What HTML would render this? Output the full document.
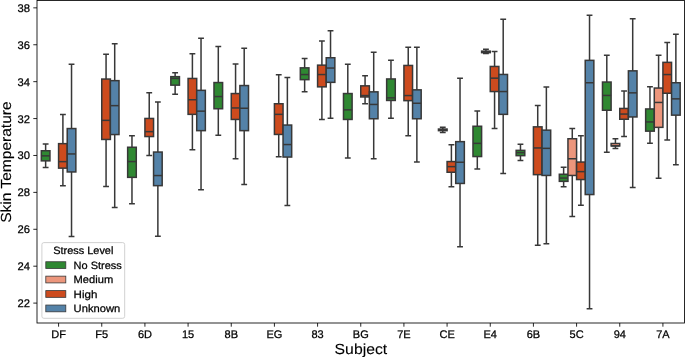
<!DOCTYPE html>
<html><head><meta charset="utf-8"><style>
html,body{margin:0;padding:0;background:#fff;}
svg{display:block;will-change:transform;}
text{font-family:"Liberation Sans",sans-serif;fill:#000;text-rendering:geometricPrecision;stroke:#000;stroke-width:0.25px;}
.tl{font-size:11px;}
.lg{font-size:10.6px;}
.w{stroke:#383838;stroke-width:1.5;fill:none;stroke-linecap:square;}
.md{stroke:#383838;stroke-width:1.5;fill:none;}
.bx{stroke:#383838;stroke-width:1.5;}
.tk{stroke:#000;stroke-width:0.85;fill:none;}
</style></head><body>
<svg width="685" height="357" viewBox="0 0 685 357">
<rect width="685" height="357" fill="#fff"/>
<path d="M45.63 150.75V143.95M43.47 143.95H47.79M45.63 160.85V167.55M43.47 167.55H47.79" class="w"/>
<rect x="41.32" y="150.75" width="8.63" height="10.1" fill="#2f8832" class="bx"/>
<path d="M41.32 155.85H49.95" class="md"/>
<path d="M62.9 143.65V114.55M60.74 114.55H65.06M62.9 168.15V185.65M60.74 185.65H65.06" class="w"/>
<rect x="58.58" y="143.65" width="8.63" height="24.5" fill="#cd4b1e" class="bx"/>
<path d="M58.58 161.65H67.22" class="md"/>
<path d="M71.53 128.55V64.15M69.38 64.15H73.69M71.53 171.95V236.55M69.38 236.55H73.69" class="w"/>
<rect x="67.22" y="128.55" width="8.63" height="43.4" fill="#5482a8" class="bx"/>
<path d="M67.22 153.95H75.85" class="md"/>
<path d="M106.07 79.05V54.35M103.91 54.35H108.22M106.07 139.45V186.55M103.91 186.55H108.22" class="w"/>
<rect x="101.75" y="79.05" width="8.63" height="60.4" fill="#cd4b1e" class="bx"/>
<path d="M101.75 120.35H110.38" class="md"/>
<path d="M114.7 80.65V43.75M112.54 43.75H116.86M114.7 134.55V207.55M112.54 207.55H116.86" class="w"/>
<rect x="110.38" y="80.65" width="8.63" height="53.9" fill="#5482a8" class="bx"/>
<path d="M110.38 105.65H119.02" class="md"/>
<path d="M131.97 147.25V135.65M129.81 135.65H134.12M131.97 177.35V203.85M129.81 203.85H134.12" class="w"/>
<rect x="127.65" y="147.25" width="8.63" height="30.1" fill="#2f8832" class="bx"/>
<path d="M127.65 161.55H136.28" class="md"/>
<path d="M149.23 118.45V92.85M147.07 92.85H151.39M149.23 136.55V155.55M147.07 155.55H151.39" class="w"/>
<rect x="144.92" y="118.45" width="8.63" height="18.1" fill="#cd4b1e" class="bx"/>
<path d="M144.92 131.65H153.55" class="md"/>
<path d="M157.87 152.05V102.05M155.71 102.05H160.02M157.87 185.65V236.15M155.71 236.15H160.02" class="w"/>
<rect x="153.55" y="152.05" width="8.63" height="33.6" fill="#5482a8" class="bx"/>
<path d="M153.55 175.55H162.18" class="md"/>
<path d="M175.13 76.65V72.85M172.97 72.85H177.29M175.13 85.15V94.35M172.97 94.35H177.29" class="w"/>
<rect x="170.82" y="76.65" width="8.63" height="8.5" fill="#2f8832" class="bx"/>
<path d="M170.82 78.45H179.45" class="md"/>
<path d="M192.4 78.45V53.85M190.24 53.85H194.56M192.4 114.35V149.65M190.24 149.65H194.56" class="w"/>
<rect x="188.08" y="78.45" width="8.63" height="35.9" fill="#cd4b1e" class="bx"/>
<path d="M188.08 99.75H196.72" class="md"/>
<path d="M201.03 90.35V38.15M198.87 38.15H203.19M201.03 130.65V189.65M198.87 189.65H203.19" class="w"/>
<rect x="196.72" y="90.35" width="8.63" height="40.3" fill="#5482a8" class="bx"/>
<path d="M196.72 111.15H205.35" class="md"/>
<path d="M218.3 82.55V46.45M216.14 46.45H220.46M218.3 108.75V135.15M216.14 135.15H220.46" class="w"/>
<rect x="213.98" y="82.55" width="8.63" height="26.2" fill="#2f8832" class="bx"/>
<path d="M213.98 96.55H222.62" class="md"/>
<path d="M235.57 93.55V63.95M233.41 63.95H237.72M235.57 119.45V158.65M233.41 158.65H237.72" class="w"/>
<rect x="231.25" y="93.55" width="8.63" height="25.9" fill="#cd4b1e" class="bx"/>
<path d="M231.25 107.95H239.88" class="md"/>
<path d="M244.2 85.55V48.25M242.04 48.25H246.36M244.2 130.65V184.55M242.04 184.55H246.36" class="w"/>
<rect x="239.88" y="85.55" width="8.63" height="45.1" fill="#5482a8" class="bx"/>
<path d="M239.88 108.25H248.52" class="md"/>
<path d="M278.73 103.75V74.75M276.57 74.75H280.89M278.73 134.45V156.65M276.57 156.65H280.89" class="w"/>
<rect x="274.42" y="103.75" width="8.63" height="30.7" fill="#cd4b1e" class="bx"/>
<path d="M274.42 114.35H283.05" class="md"/>
<path d="M287.37 125.05V77.45M285.21 77.45H289.52M287.37 157.05V205.55M285.21 205.55H289.52" class="w"/>
<rect x="283.05" y="125.05" width="8.63" height="32" fill="#5482a8" class="bx"/>
<path d="M283.05 144.55H291.68" class="md"/>
<path d="M304.63 67.85V58.45M302.47 58.45H306.79M304.63 79.65V91.65M302.47 91.65H306.79" class="w"/>
<rect x="300.32" y="67.85" width="8.63" height="11.8" fill="#2f8832" class="bx"/>
<path d="M300.32 74.55H308.95" class="md"/>
<path d="M321.9 65.15V40.95M319.74 40.95H324.06M321.9 86.85V119.45M319.74 119.45H324.06" class="w"/>
<rect x="317.58" y="65.15" width="8.63" height="21.7" fill="#cd4b1e" class="bx"/>
<path d="M317.58 74.55H326.22" class="md"/>
<path d="M330.53 57.75V30.85M328.37 30.85H332.69M330.53 82.35V118.35M328.37 118.35H332.69" class="w"/>
<rect x="326.22" y="57.75" width="8.63" height="24.6" fill="#5482a8" class="bx"/>
<path d="M326.22 68.05H334.85" class="md"/>
<path d="M347.8 93.55V64.35M345.64 64.35H349.96M347.8 119.45V157.95M345.64 157.95H349.96" class="w"/>
<rect x="343.48" y="93.55" width="8.63" height="25.9" fill="#2f8832" class="bx"/>
<path d="M343.48 109.85H352.12" class="md"/>
<path d="M365.07 85.85V75.75M362.91 75.75H367.23M365.07 96.95V103.65M362.91 103.65H367.23" class="w"/>
<rect x="360.75" y="85.85" width="8.63" height="11.1" fill="#cd4b1e" class="bx"/>
<path d="M360.75 95.55H369.38" class="md"/>
<path d="M373.7 91.85V52.25M371.54 52.25H375.86M373.7 118.75V158.65M371.54 158.65H375.86" class="w"/>
<rect x="369.38" y="91.85" width="8.63" height="26.9" fill="#5482a8" class="bx"/>
<path d="M369.38 104.45H378.02" class="md"/>
<path d="M390.97 78.95V60.15M388.81 60.15H393.12M390.97 100.45V118.35M388.81 118.35H393.12" class="w"/>
<rect x="386.65" y="78.95" width="8.63" height="21.5" fill="#2f8832" class="bx"/>
<path d="M386.65 97.85H395.28" class="md"/>
<path d="M408.23 65.45V47.15M406.07 47.15H410.39M408.23 100.65V135.75M406.07 135.75H410.39" class="w"/>
<rect x="403.92" y="65.45" width="8.63" height="35.2" fill="#cd4b1e" class="bx"/>
<path d="M403.92 95.55H412.55" class="md"/>
<path d="M416.87 89.85V47.15M414.71 47.15H419.02M416.87 118.75V161.95M414.71 161.95H419.02" class="w"/>
<rect x="412.55" y="89.85" width="8.63" height="28.9" fill="#5482a8" class="bx"/>
<path d="M412.55 103.25H421.18" class="md"/>
<path d="M442.77 129.05V127.25M440.61 127.25H444.93M442.77 130.65V132.45M440.61 132.45H444.93" class="w"/>
<rect x="438.45" y="129.05" width="8.63" height="1.6" fill="#ec967c" class="bx"/>
<path d="M438.45 129.85H447.08" class="md"/>
<path d="M451.4 161.55V144.85M449.24 144.85H453.56M451.4 172.25V186.85M449.24 186.85H453.56" class="w"/>
<rect x="447.08" y="161.55" width="8.63" height="10.7" fill="#cd4b1e" class="bx"/>
<path d="M447.08 166.65H455.72" class="md"/>
<path d="M460.03 141.65V78.15M457.87 78.15H462.19M460.03 183.45V246.65M457.87 246.65H462.19" class="w"/>
<rect x="455.72" y="141.65" width="8.63" height="41.8" fill="#5482a8" class="bx"/>
<path d="M455.72 162.25H464.35" class="md"/>
<path d="M477.3 126.25V111.05M475.14 111.05H479.46M477.3 156.55V168.95M475.14 168.95H479.46" class="w"/>
<rect x="472.98" y="126.25" width="8.63" height="30.3" fill="#2f8832" class="bx"/>
<path d="M472.98 143.35H481.62" class="md"/>
<path d="M485.93 51.15V49.25M483.77 49.25H488.09M485.93 52.65V53.55M483.77 53.55H488.09" class="w"/>
<rect x="481.62" y="51.15" width="8.63" height="1.5" fill="#ec967c" class="bx"/>
<path d="M481.62 51.85H490.25" class="md"/>
<path d="M494.57 66.45V51.55M492.41 51.55H496.73M494.57 91.55V128.45M492.41 128.45H496.73" class="w"/>
<rect x="490.25" y="66.45" width="8.63" height="25.1" fill="#cd4b1e" class="bx"/>
<path d="M490.25 78.15H498.88" class="md"/>
<path d="M503.2 74.45V19.25M501.04 19.25H505.36M503.2 114.35V173.45M501.04 173.45H505.36" class="w"/>
<rect x="498.88" y="74.45" width="8.63" height="39.9" fill="#5482a8" class="bx"/>
<path d="M498.88 91.55H507.52" class="md"/>
<path d="M520.47 150.35V144.15M518.31 144.15H522.62M520.47 155.65V160.45M518.31 160.45H522.62" class="w"/>
<rect x="516.15" y="150.35" width="8.63" height="5.3" fill="#2f8832" class="bx"/>
<path d="M516.15 152.65H524.78" class="md"/>
<path d="M537.73 126.85V105.55M535.58 105.55H539.89M537.73 174.65V245.15M535.58 245.15H539.89" class="w"/>
<rect x="533.42" y="126.85" width="8.63" height="47.8" fill="#cd4b1e" class="bx"/>
<path d="M533.42 147.95H542.05" class="md"/>
<path d="M546.37 130.15V86.95M544.21 86.95H548.52M546.37 175.45V243.75M544.21 243.75H548.52" class="w"/>
<rect x="542.05" y="130.15" width="8.63" height="45.3" fill="#5482a8" class="bx"/>
<path d="M542.05 148.35H550.68" class="md"/>
<path d="M563.63 174.25V167.25M561.47 167.25H565.79M563.63 181.35V186.65M561.47 186.65H565.79" class="w"/>
<rect x="559.32" y="174.25" width="8.63" height="7.1" fill="#2f8832" class="bx"/>
<path d="M559.32 178.05H567.95" class="md"/>
<path d="M572.27 138.75V128.45M570.11 128.45H574.42M572.27 175.45V216.45M570.11 216.45H574.42" class="w"/>
<rect x="567.95" y="138.75" width="8.63" height="36.7" fill="#ec967c" class="bx"/>
<path d="M567.95 158.75H576.58" class="md"/>
<path d="M580.9 162.05V135.75M578.74 135.75H583.06M580.9 179.55V205.25M578.74 205.25H583.06" class="w"/>
<rect x="576.58" y="162.05" width="8.63" height="17.5" fill="#cd4b1e" class="bx"/>
<path d="M576.58 171.65H585.22" class="md"/>
<path d="M589.53 60.35V15.35M587.38 15.35H591.69M589.53 194.55V308.65M587.38 308.65H591.69" class="w"/>
<rect x="585.22" y="60.35" width="8.63" height="134.2" fill="#5482a8" class="bx"/>
<path d="M585.22 82.75H593.85" class="md"/>
<path d="M606.8 82.05V55.15M604.64 55.15H608.96M606.8 110.25V152.35M604.64 152.35H608.96" class="w"/>
<rect x="602.48" y="82.05" width="8.63" height="28.2" fill="#2f8832" class="bx"/>
<path d="M602.48 95.45H611.12" class="md"/>
<path d="M615.43 143.5V138.65M613.27 138.65H617.59M615.43 145.9V148.55M613.27 148.55H617.59" class="w"/>
<rect x="611.12" y="143.5" width="8.63" height="2.4" fill="#ec967c" class="bx"/>
<path d="M611.12 145.9H619.75" class="md"/>
<path d="M624.07 108.45V91.05M621.91 91.05H626.23M624.07 119.25V136.55M621.91 136.55H626.23" class="w"/>
<rect x="619.75" y="108.45" width="8.63" height="10.8" fill="#cd4b1e" class="bx"/>
<path d="M619.75 114.05H628.38" class="md"/>
<path d="M632.7 70.85V18.75M630.54 18.75H634.86M632.7 116.95V187.55M630.54 187.55H634.86" class="w"/>
<rect x="628.38" y="70.85" width="8.63" height="46.1" fill="#5482a8" class="bx"/>
<path d="M628.38 92.85H637.02" class="md"/>
<path d="M649.97 108.95V86.75M647.81 86.75H652.12M649.97 131.15V143.15M647.81 143.15H652.12" class="w"/>
<rect x="645.65" y="108.95" width="8.63" height="22.2" fill="#2f8832" class="bx"/>
<path d="M645.65 121.95H654.28" class="md"/>
<path d="M658.6 88.05V55.15M656.44 55.15H660.76M658.6 127.35V178.15M656.44 178.15H660.76" class="w"/>
<rect x="654.28" y="88.05" width="8.63" height="39.3" fill="#ec967c" class="bx"/>
<path d="M654.28 102.45H662.92" class="md"/>
<path d="M667.23 62.35V42.45M665.08 42.45H669.39M667.23 93.25V139.95M665.08 139.95H669.39" class="w"/>
<rect x="662.92" y="62.35" width="8.63" height="30.9" fill="#cd4b1e" class="bx"/>
<path d="M662.92 74.55H671.55" class="md"/>
<path d="M675.87 82.75V34.35M673.71 34.35H678.02M675.87 115.15V164.65M673.71 164.65H678.02" class="w"/>
<rect x="671.55" y="82.75" width="8.63" height="32.4" fill="#5482a8" class="bx"/>
<path d="M671.55 98.85H680.18" class="md"/>
<rect x="37" y="0.5" width="647.5" height="322.5" fill="none" stroke="#000" stroke-width="0.85"/>
<path d="M33.3 303.1H37" class="tk"/><text x="30" y="307.1" class="tl" text-anchor="end" textLength="12.5" lengthAdjust="spacingAndGlyphs">22</text>
<path d="M33.3 266.19H37" class="tk"/><text x="30" y="270.19" class="tl" text-anchor="end" textLength="12.5" lengthAdjust="spacingAndGlyphs">24</text>
<path d="M33.3 229.29H37" class="tk"/><text x="30" y="233.29" class="tl" text-anchor="end" textLength="12.5" lengthAdjust="spacingAndGlyphs">26</text>
<path d="M33.3 192.38H37" class="tk"/><text x="30" y="196.38" class="tl" text-anchor="end" textLength="12.5" lengthAdjust="spacingAndGlyphs">28</text>
<path d="M33.3 155.47H37" class="tk"/><text x="30" y="159.47" class="tl" text-anchor="end" textLength="12.5" lengthAdjust="spacingAndGlyphs">30</text>
<path d="M33.3 118.57H37" class="tk"/><text x="30" y="122.57" class="tl" text-anchor="end" textLength="12.5" lengthAdjust="spacingAndGlyphs">32</text>
<path d="M33.3 81.66H37" class="tk"/><text x="30" y="85.66" class="tl" text-anchor="end" textLength="12.5" lengthAdjust="spacingAndGlyphs">34</text>
<path d="M33.3 44.76H37" class="tk"/><text x="30" y="48.76" class="tl" text-anchor="end" textLength="12.5" lengthAdjust="spacingAndGlyphs">36</text>
<path d="M33.3 7.85H37" class="tk"/><text x="30" y="11.85" class="tl" text-anchor="end" textLength="12.5" lengthAdjust="spacingAndGlyphs">38</text>
<path d="M58.58 323V326.7" class="tk"/><text x="58.58" y="337.9" class="tl" text-anchor="middle">DF</text>
<path d="M101.75 323V326.7" class="tk"/><text x="101.75" y="337.9" class="tl" text-anchor="middle">F5</text>
<path d="M144.92 323V326.7" class="tk"/><text x="144.92" y="337.9" class="tl" text-anchor="middle">6D</text>
<path d="M188.08 323V326.7" class="tk"/><text x="188.08" y="337.9" class="tl" text-anchor="middle">15</text>
<path d="M231.25 323V326.7" class="tk"/><text x="231.25" y="337.9" class="tl" text-anchor="middle">8B</text>
<path d="M274.42 323V326.7" class="tk"/><text x="274.42" y="337.9" class="tl" text-anchor="middle">EG</text>
<path d="M317.58 323V326.7" class="tk"/><text x="317.58" y="337.9" class="tl" text-anchor="middle">83</text>
<path d="M360.75 323V326.7" class="tk"/><text x="360.75" y="337.9" class="tl" text-anchor="middle">BG</text>
<path d="M403.92 323V326.7" class="tk"/><text x="403.92" y="337.9" class="tl" text-anchor="middle">7E</text>
<path d="M447.08 323V326.7" class="tk"/><text x="447.08" y="337.9" class="tl" text-anchor="middle">CE</text>
<path d="M490.25 323V326.7" class="tk"/><text x="490.25" y="337.9" class="tl" text-anchor="middle">E4</text>
<path d="M533.42 323V326.7" class="tk"/><text x="533.42" y="337.9" class="tl" text-anchor="middle">6B</text>
<path d="M576.58 323V326.7" class="tk"/><text x="576.58" y="337.9" class="tl" text-anchor="middle">5C</text>
<path d="M619.75 323V326.7" class="tk"/><text x="619.75" y="337.9" class="tl" text-anchor="middle">94</text>
<path d="M662.92 323V326.7" class="tk"/><text x="662.92" y="337.9" class="tl" text-anchor="middle">7A</text>
<rect x="41.9" y="242.6" width="82.8" height="75.7" rx="2" ry="2" fill="#fff" fill-opacity="0.8" stroke="#cccccc" stroke-width="0.9"/>
<text x="53.2" y="254.1" class="lg" textLength="60.2" lengthAdjust="spacingAndGlyphs">Stress Level</text>
<rect x="45.8" y="261.75" width="20.0" height="6.75" fill="#2f8832" stroke="#383838" stroke-width="0.8"/>
<text x="73.6" y="268.7" class="lg" textLength="48.2" lengthAdjust="spacingAndGlyphs">No Stress</text>
<rect x="45.8" y="276.15" width="20.0" height="6.75" fill="#ec967c" stroke="#383838" stroke-width="0.8"/>
<text x="73.6" y="283.1" class="lg" textLength="39.6" lengthAdjust="spacingAndGlyphs">Medium</text>
<rect x="45.8" y="290.6" width="20.0" height="6.75" fill="#cd4b1e" stroke="#383838" stroke-width="0.8"/>
<text x="73.6" y="297.55" class="lg" textLength="23.8" lengthAdjust="spacingAndGlyphs">High</text>
<rect x="45.8" y="305.05" width="20.0" height="6.75" fill="#5482a8" stroke="#383838" stroke-width="0.8"/>
<text x="73.6" y="312" class="lg" textLength="46.6" lengthAdjust="spacingAndGlyphs">Unknown</text>
<text x="334.6" y="353.9" font-size="14.6" style="stroke-width:0.1px" textLength="52.6" lengthAdjust="spacingAndGlyphs">Subject</text>
<text transform="translate(10.8 222.8) rotate(-90)" font-size="14.6" style="stroke-width:0.1px" textLength="121.4" lengthAdjust="spacingAndGlyphs">Skin Temperature</text>
</svg>
</body></html>
